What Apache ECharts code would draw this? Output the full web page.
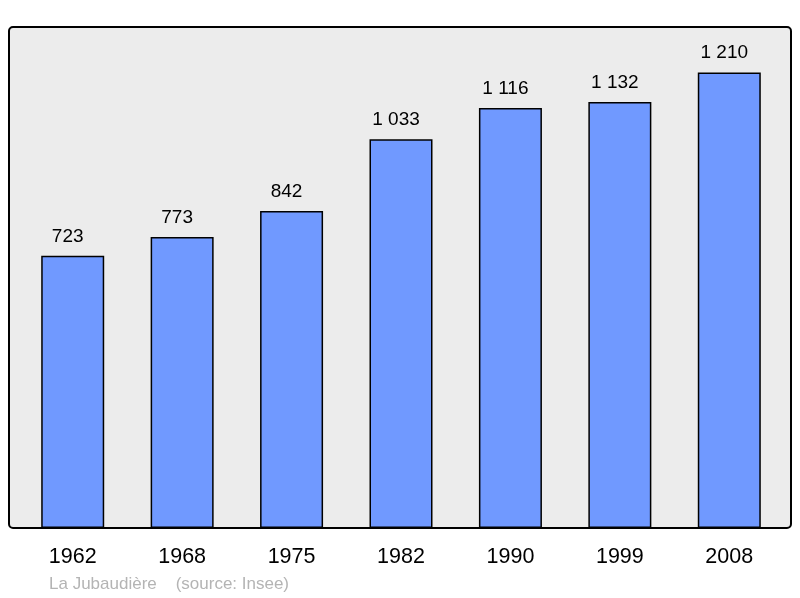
<!DOCTYPE html>
<html>
<head>
<meta charset="utf-8">
<script src="https://cdn.jsdelivr.net/npm/echarts@6/dist/echarts.min.js"></script>
<style>
  html, body { margin: 0; padding: 0; background: #fff; }
  #chart { width: 800px; height: 598px; }
</style>
</head>
<body>
<div id="chart"></div>
<script>
// --- DATA ---
const years = ['1962', '1968', '1975', '1982', '1990', '1999', '2008'];
const population = [723, 773, 842, 1033, 1116, 1132, 1210];
const placeName = 'La Jubaudière';
const sourceText = '(source: Insee)';

// 1 033 style formatting
function fmt(v) {
    return String(v).replace(/\B(?=(\d{3})+(?!\d))/g, ' ');
}

const chart = echarts.init(document.getElementById('chart'));
chart.setOption({
    animation: false,
    backgroundColor: '#ffffff',
    graphic: [
        {
            type: 'rect',
            z: -10,
            shape: { x: 9, y: 27, width: 782, height: 501, r: 4 },
            style: { fill: '#ececec', stroke: '#000', lineWidth: 2 }
        },
        {
            type: 'text',
            left: 49,
            top: 576,
            style: {
                text: placeName + '    ' + sourceText,
                fill: '#b4b4b4',
                font: '17px "Liberation Sans", Arial, sans-serif'
            }
        }
    ],
    grid: { left: 18, right: 16, top: 27, bottom: 70 },
    xAxis: {
        type: 'category',
        data: years,
        axisLine: { show: false },
        axisTick: { show: false },
        axisLabel: {
            color: '#000',
            fontSize: 21.5,
            fontFamily: '"Liberation Sans", Arial, sans-serif',
            margin: 18
        }
    },
    yAxis: {
        type: 'value',
        min: 0,
        max: 1331,
        show: false,
        splitLine: { show: false }
    },
    series: [{
        type: 'bar',
        data: population,
        barWidth: 63,
        itemStyle: { color: '#7099ff', borderColor: '#000', borderWidth: 1.5 },
        label: {
            show: true,
            position: 'top',
            distance: 10,
            offset: [-5, 0],
            color: '#000',
            fontSize: 19,
            fontFamily: '"Liberation Sans", Arial, sans-serif',
            formatter: p => fmt(p.value)
        }
    }]
});
</script>
</body>
</html>
